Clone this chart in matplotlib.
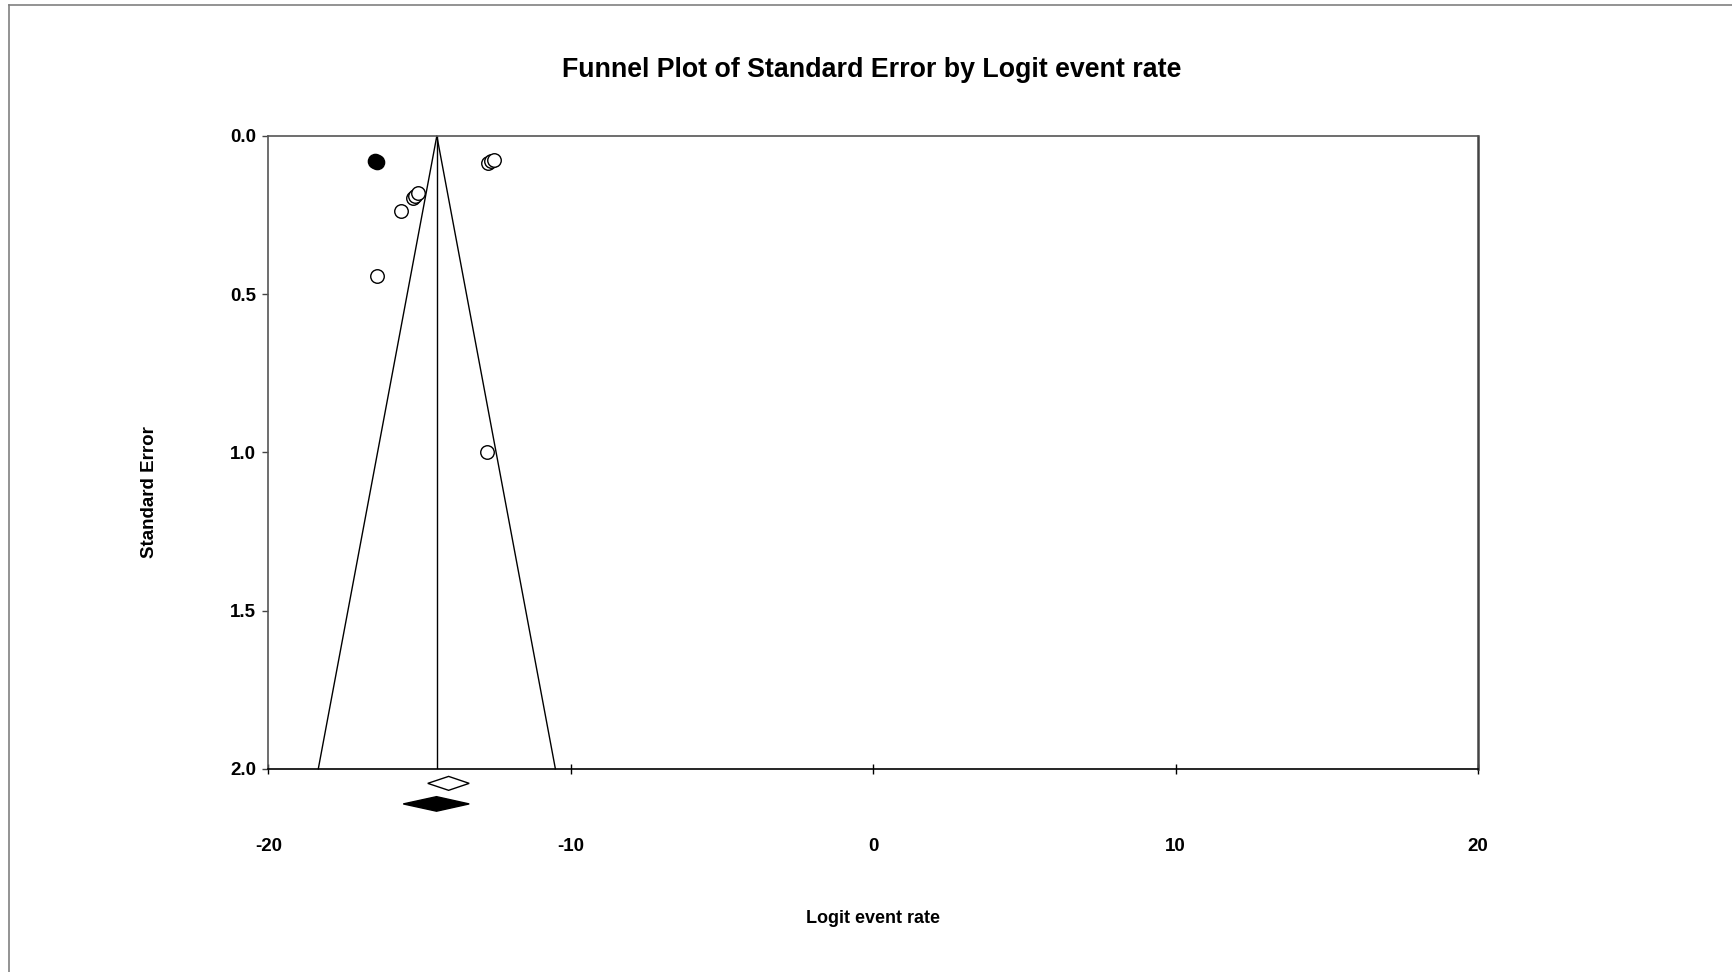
import matplotlib
matplotlib.use("Agg")
import matplotlib.pyplot as plt
from matplotlib.lines import Line2D

plt.rcParams["font.family"] = ["Liberation Sans", "DejaVu Sans"]
plt.rcParams["font.weight"] = "bold"

# --- dados ------------------------------------------------------------
# estudos observados (circulos abertos)
obs_logit = [-12.73, -12.64, -12.54, -15.21, -15.14, -15.06, -15.62, -16.42, -12.76]
obs_se = [0.085, 0.080, 0.075, 0.195, 0.189, 0.180, 0.237, 0.443, 0.998]
# estudos imputados (circulos cheios, trim and fill)
imp_logit = [-16.46, -16.40]
imp_se = [0.079, 0.081]

# efeito combinado: [estimativa, limite inferior, limite superior]
pooled_obs = [-14.04, -14.73, -13.36]   # losango aberto
pooled_adj = [-14.44, -15.54, -13.36]   # losango cheio
funnel_center = -14.43
se_max = 2.0

x_ticks = [-20, -10, 0, 10, 20]
y_ticks = [0.0, 0.5, 1.0, 1.5, 2.0]

W, H = 1732, 972
fig = plt.figure(figsize=(W / 100, H / 100), dpi=100)
ax = fig.add_axes([268.4 / W, 1 - 768.8 / H, (1478 - 268.4) / W, (768.8 - 135.9) / H])

# funil
ax.plot([funnel_center - 1.96 * se_max, funnel_center, funnel_center + 1.96 * se_max],
        [se_max, 0, se_max], color="black", lw=1.0, clip_on=False)
ax.plot([funnel_center, funnel_center], [0, se_max], color="black", lw=1.0)

ax.scatter(obs_logit, obs_se, s=95, facecolors="white", edgecolors="black",
           linewidths=1.0, zorder=3, clip_on=False)
ax.scatter(imp_logit, imp_se, s=105, facecolors="black", edgecolors="black",
           linewidths=1.0, zorder=3, clip_on=False)


def diamond(est, lo, hi, yc, hh, filled):
    xs = [lo, est, hi, est, lo]
    ys = [yc, yc - hh, yc, yc + hh, yc]
    ax.fill(xs, ys, facecolor="black" if filled else "white",
            edgecolor="black", lw=1.0, clip_on=False, zorder=4)


diamond(*pooled_obs, 2.046, 0.022, False)
diamond(*pooled_adj, 2.111, 0.023, True)

ax.set_xlim(-20, 20)
ax.set_ylim(2.0, 0.0)
ax.set_xticks(x_ticks)
ax.set_xticklabels([str(t) for t in x_ticks])
ax.set_yticks(y_ticks)
ax.set_yticklabels(["%.1f" % t for t in y_ticks])
ax.tick_params(axis="x", direction="inout", length=7, width=1, pad=46,
               labelsize=13.5, color="black")
ax.tick_params(axis="y", direction="out", length=4, width=1, pad=5,
               labelsize=13.5, color="#444444")
for lab in ax.get_xticklabels() + ax.get_yticklabels():
    lab.set_fontweight("bold")

for side in ["top", "left"]:
    ax.spines[side].set_color("#555555")
    ax.spines[side].set_linewidth(1.2)
ax.spines["right"].set_color("#444444")
ax.spines["right"].set_linewidth(1.8)
ax.spines["bottom"].set_color("black")
ax.spines["bottom"].set_linewidth(1.2)

fig.text(872 / W, 1 - 69.6 / H, "Funnel Plot of Standard Error by Logit event rate",
         ha="center", va="center", fontsize=19.3, fontweight="bold")
fig.text(150 / W, 1 - 492 / H, "Standard Error", rotation=90,
         ha="center", va="center", fontsize=13.5, fontweight="bold")
fig.text(872.6 / W, 1 - 918 / H, "Logit event rate",
         ha="center", va="center", fontsize=13, fontweight="bold")

# moldura cinza da janela original
fig.add_artist(Line2D([8.5 / W, 1], [1 - 5.3 / H, 1 - 5.3 / H], color="#808080", lw=1.2))
fig.add_artist(Line2D([8.5 / W, 8.5 / W], [0, 1 - 5.3 / H], color="#808080", lw=1.2))

fig.savefig("out.png", dpi=100)
